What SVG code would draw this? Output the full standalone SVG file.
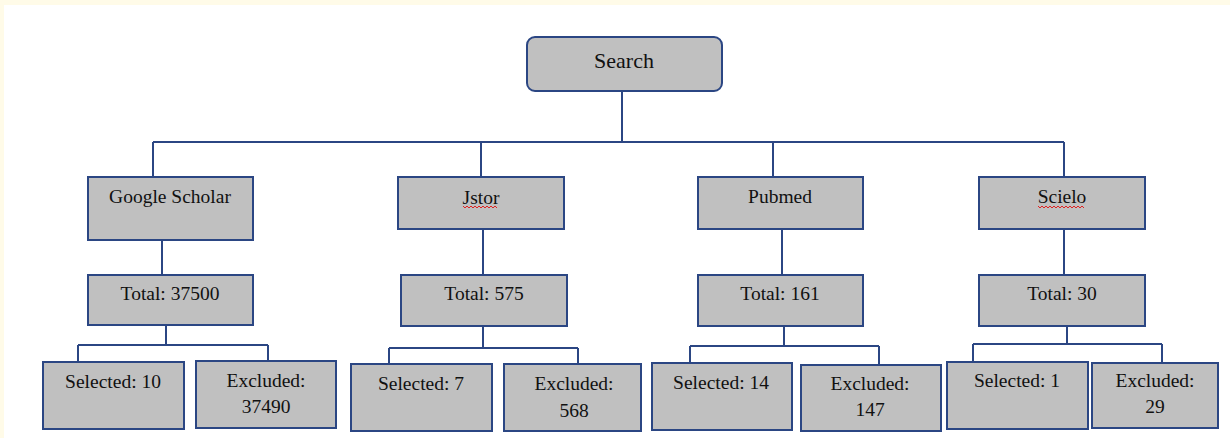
<svg xmlns="http://www.w3.org/2000/svg" width="1230" height="438" viewBox="0 0 1230 438">
<style>
.box{fill:#c0c0c0;stroke:#2b4683;stroke-width:2}
.ln{fill:none;stroke:#2b4683;stroke-width:2}
.t{font-family:"Liberation Serif","Times New Roman",serif;font-size:19.5px;fill:#111;text-anchor:middle}
.sq{fill:none;stroke:#e02020;stroke-width:1}
</style>
<rect x="0" y="0" width="1230" height="438" fill="#ffffff"/>
<rect x="0" y="0" width="1230" height="5" fill="#fffbe8"/>
<rect x="0" y="0" width="4" height="438" fill="#fffbe8"/>
<g id="connectors">
<path class="ln" d="M622 91V142M153 142H1064M153 142V177M481 142V177M773 142V177M1064 142V177"/>
<path class="ln" d="M162 240V275M166 325V345M78 345H268M78 345V362M268 345V361"/>
<path class="ln" d="M483 229V275M483 326V348M389 348H578M389 348V364M578 348V364"/>
<path class="ln" d="M782 229V275M784 326V346M690 346H879M690 346V363M879 346V365"/>
<path class="ln" d="M1064 229V275M1067 326V344M973 344H1162M973 344V362M1162 344V363"/>
</g>
<g id="search"><rect class="box" x="527" y="37" width="195" height="54" rx="8"/><text class="t" x="624" y="68" style="font-size:22px">Search</text></g>
<g id="google-scholar"><rect class="box" x="88" y="177" width="165" height="63"/><text class="t" x="170" y="203">Google Scholar</text></g>
<g id="jstor"><rect class="box" x="398" y="177" width="166" height="52"/><text class="t" x="481" y="204">Jstor</text><path class="sq" d="M463 206l2 2 2-2 2 2 2-2 2 2 2-2 2 2 2-2 2 2 2-2 2 2 2-2 2 2 2-2 2 2 2-2 2 2"/></g>
<g id="pubmed"><rect class="box" x="698" y="177" width="165" height="52"/><text class="t" x="780" y="203">Pubmed</text></g>
<g id="scielo"><rect class="box" x="979" y="177" width="166" height="52"/><text class="t" x="1062" y="203">Scielo</text><path class="sq" d="M1038 206l2 2 2-2 2 2 2-2 2 2 2-2 2 2 2-2 2 2 2-2 2 2 2-2 2 2 2-2 2 2 2-2 2 2 2-2 2 2 2-2 2 2 2-2 2 2"/></g>
<g id="gs-total"><rect class="box" x="88" y="275" width="165" height="50"/><text class="t" x="170" y="300">Total: 37500</text></g>
<g id="jstor-total"><rect class="box" x="401" y="275" width="166" height="51"/><text class="t" x="484" y="300">Total: 575</text></g>
<g id="pubmed-total"><rect class="box" x="698" y="275" width="165" height="51"/><text class="t" x="780" y="300">Total: 161</text></g>
<g id="scielo-total"><rect class="box" x="979" y="275" width="166" height="51"/><text class="t" x="1062" y="300">Total: 30</text></g>
<g id="gs-selected"><rect class="box" x="43" y="362" width="141" height="67"/><text class="t" x="113" y="388">Selected: 10</text></g>
<g id="gs-excluded"><rect class="box" x="196" y="361" width="140" height="67"/><text class="t" x="266" y="387">Excluded:</text><text class="t" x="266" y="413">37490</text></g>
<g id="jstor-selected"><rect class="box" x="351" y="364" width="141" height="67"/><text class="t" x="421" y="390">Selected: 7</text></g>
<g id="jstor-excluded"><rect class="box" x="504" y="364" width="137" height="67"/><text class="t" x="574" y="390">Excluded:</text><text class="t" x="574" y="417">568</text></g>
<g id="pubmed-selected"><rect class="box" x="652" y="363" width="140" height="67"/><text class="t" x="721" y="389">Selected: 14</text></g>
<g id="pubmed-excluded"><rect class="box" x="801" y="365" width="140" height="66"/><text class="t" x="870" y="390">Excluded:</text><text class="t" x="870" y="416">147</text></g>
<g id="scielo-selected"><rect class="box" x="947" y="362" width="141" height="67"/><text class="t" x="1017" y="387">Selected: 1</text></g>
<g id="scielo-excluded"><rect class="box" x="1092" y="363" width="126" height="65"/><text class="t" x="1155" y="387">Excluded:</text><text class="t" x="1155" y="413">29</text></g>
</svg>
